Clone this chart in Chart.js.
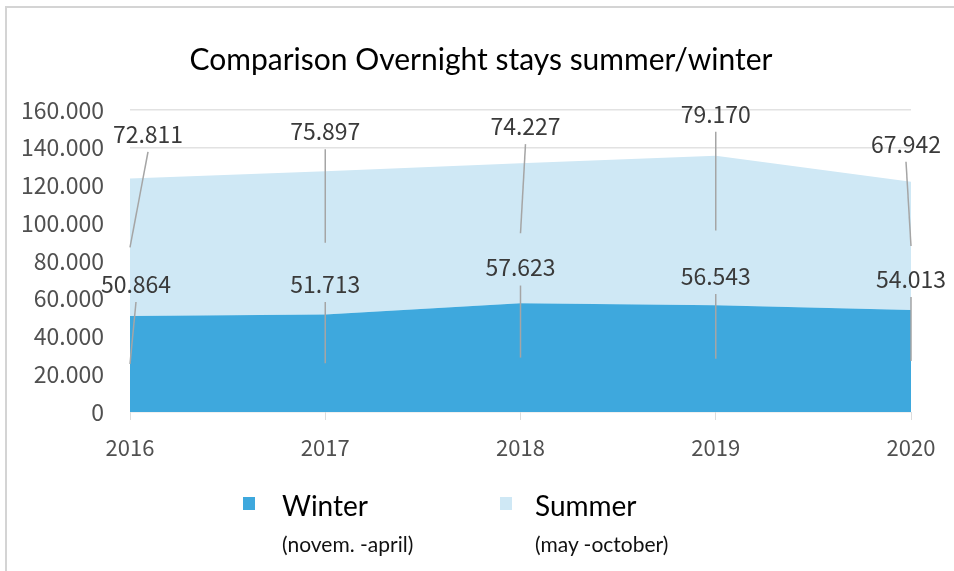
<!DOCTYPE html>
<html>
<head>
<meta charset="utf-8">
<script src="https://cdn.jsdelivr.net/npm/chart.js@4.4.1/dist/chart.umd.min.js"></script>
<style>
  html, body { margin: 0; padding: 0; background: #fff; }
  #wrap { position: relative; width: 954px; height: 571px; overflow: hidden; }
  #frame { position: absolute; left: 5px; top: 6px; width: 960px; height: 600px;
           border-left: 2px solid #d4d4d4; border-top: 2px solid #d4d4d4; }
  canvas { position: absolute; left: 0; top: 0; }
  .sq { position: absolute; width: 12px; height: 13px; }
  .lg { position: absolute; font-family: Lato, "Noto Sans", sans-serif; color: #000; white-space: nowrap; }
  .lg .main { font-size: 28px; line-height: 32px; }
  .lg .sub { font-size: 21px; line-height: 26px; margin-top: 10px; color: #111; }
</style>
</head>
<body>
<div id="wrap">
  <div id="frame"></div>
  <canvas id="c" width="954" height="571"></canvas>
  <div id="legend"></div>
</div>
<script>
// ---- data ----
const categories = ['2016', '2017', '2018', '2019', '2020'];
const winterValues = [50864, 51713, 57623, 56543, 54013];
const summerValues = [72811, 75897, 74227, 79170, 67942];
const yTickValues = [0, 20000, 40000, 60000, 80000, 100000, 120000, 140000, 160000];
const seriesNames = ['Winter', 'Summer'];
const seriesNotes = ['(novem. -april)', '(may -october)'];
const chartTitle = 'Comparison Overnight stays summer/winter';

// ---- styles ----
const winterColor = '#3ea8dd';
const summerColor = '#cfe8f5';

function fmt(v) {
  const s = String(Math.round(v));
  return s.replace(/\B(?=(\d{3})+(?!\d))/g, '.');
}

const leaderLabels = {
  id: 'leaderLabels',
  afterDatasetsDraw(chart, args, opts) {
    const ctx = chart.ctx;
    const xs = chart.scales.x, ys = chart.scales.y;
    ctx.save();
    ctx.font = opts.font;
    ctx.textAlign = 'center';
    ctx.textBaseline = 'middle';
    opts.series.forEach(s => {
      chart.data.datasets[s.dataset].data.forEach((v, i) => {
        let base = 0;
        for (let d = 0; d < s.dataset; d++) base += chart.data.datasets[d].data[i];
        const px = xs.getPixelForValue(i);
        const yTop = ys.getPixelForValue(base + v);
        const yMid = ys.getPixelForValue(base + v / 2);
        const lx = px + s.dx[i];
        const ly = yTop - s.dy[i];
        ctx.strokeStyle = opts.lineColor;
        ctx.lineWidth = 1.5;
        ctx.beginPath();
        ctx.moveTo(lx, ly + opts.gap);
        ctx.lineTo(px, yMid);
        ctx.stroke();
        ctx.fillStyle = opts.color;
        ctx.fillText(fmt(v), lx, ly);
      });
    });
    ctx.restore();
  }
};

const chart = new Chart(document.getElementById('c'), {
  type: 'line',
  data: {
    labels: categories,
    datasets: [
      { label: seriesNames[0], data: winterValues, fill: 'origin', backgroundColor: winterColor,
        borderWidth: 0, pointRadius: 0, tension: 0 },
      { label: seriesNames[1], data: summerValues, fill: '-1', backgroundColor: summerColor,
        borderWidth: 0, pointRadius: 0, tension: 0 }
    ]
  },
  options: {
    responsive: false,
    animation: false,
    events: [],
    layout: { padding: { left: 8, right: 0, top: 0, bottom: 0 } },
    plugins: {
      legend: { display: false },
      tooltip: { enabled: false },
      title: {
        display: true, text: chartTitle, color: '#000',
        font: { family: 'Lato', size: 30, weight: 'normal', lineHeight: 1.2 },
        padding: { top: 42, bottom: 32 }
      },
      leaderLabels: {
        font: '23px "Noto Sans CJK KR"',
        color: '#3a3a3a',
        lineColor: '#a5a5a5',
        gap: 18,
        series: [
          { dataset: 1, dx: [18, 0, 5, 0, -5], dy: [44.6, 40, 37, 42, 38] },
          { dataset: 0, dx: [6, 0, 0, 0, 0], dy: [32, 30.4, 35.7, 29.3, 31] }
        ]
      }
    },
    scales: {
      x: {
        type: 'category', offset: false,
        grid: { drawOnChartArea: false, drawTicks: true, tickLength: 8, color: '#dcdcdc' },
        border: { display: false },
        ticks: { color: '#505050', font: { family: 'Noto Sans CJK KR', size: 22 }, padding: 14, maxRotation: 0 },
        afterFit(scale) { scale.height = 159; scale.paddingRight = 43; }
      },
      y: {
        stacked: true, min: 0, max: 160000,
        afterBuildTicks(scale) { scale.ticks = yTickValues.map(v => ({ value: v })); },
        grid: { color: '#e2e2e2', drawTicks: false, lineWidth: 1.5 },
        border: { display: false },
        ticks: { color: '#505050', font: { family: 'Noto Sans CJK KR', size: 23 }, padding: 26,
                 callback: v => fmt(v) },
        afterFit(scale) { scale.width = 122; }
      }
    }
  },
  plugins: [leaderLabels]
});

// ---- legend (HTML text) ----
const legendPos = [{ sx: 243, tx: 282 }, { sx: 500, tx: 535 }];
const colors = [winterColor, summerColor];
const lg = document.getElementById('legend');
seriesNames.forEach((n, i) => {
  const sq = document.createElement('div');
  sq.className = 'sq';
  sq.style.left = legendPos[i].sx + 'px';
  sq.style.top = '497px';
  sq.style.background = colors[i];
  lg.appendChild(sq);
  const t = document.createElement('div');
  t.className = 'lg';
  t.style.left = legendPos[i].tx + 'px';
  t.style.top = '489px';
  t.innerHTML = '<div class="main">' + n + '</div><div class="sub">' + seriesNotes[i] + '</div>';
  lg.appendChild(t);
});
</script>
</body>
</html>
